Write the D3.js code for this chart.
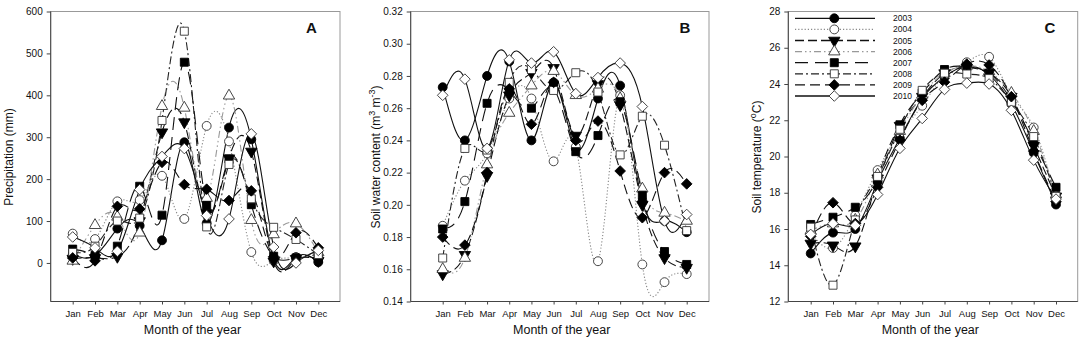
<!DOCTYPE html>
<html>
<head>
<meta charset="utf-8">
<style>
  html, body { margin: 0; padding: 0; background: #fff; }
  svg { display: block; font-family: "Liberation Sans", Arial, sans-serif; }
</style>
</head>
<body>
<svg id="chart" width="1084" height="339"></svg>
<script src="https://cdn.jsdelivr.net/npm/d3@7"></script>
<script>
  // ---- data ----
  const months = ['Jan', 'Feb', 'Mar', 'Apr', 'May', 'Jun', 'Jul', 'Aug', 'Sep', 'Oct', 'Nov', 'Dec']
  const years = ['2003', '2004', '2005', '2006', '2007', '2008', '2009', '2010']

  // precipitation (mm), one row per year
  const precipitation = [
    [20, 18, 82, 89, 54, 288, 95, 323, 295, 10, 14, 2],
    [70, 57, 147, 150, 208, 105, 327, 290, 26, 5, 12, 28],
    [10, 12, 15, 100, 312, 336, 119, 250, 266, 4, 10, 5],
    [5, 90, 110, 72, 374, 370, 155, 399, 102, 68, 94, 25],
    [33, 18, 40, 183, 114, 479, 137, 248, 139, 16, 12, 10],
    [25, 40, 100, 107, 340, 553, 86, 235, 153, 85, 56, 20],
    [12, 5, 135, 129, 240, 187, 176, 149, 172, 15, 72, 36],
    [62, 36, 28, 175, 254, 273, 113, 105, 308, 38, 0, 30]
  ]

  // soil water content (m3 m-3)
  const soilWater = [
    [0.273, 0.240, 0.280, 0.289, 0.240, 0.276, 0.235, 0.266, 0.274, 0.202, 0.190, 0.183],
    [0.187, 0.215, 0.232, 0.266, 0.266, 0.227, 0.236, 0.165, 0.268, 0.163, 0.152, 0.157],
    [0.157, 0.169, 0.218, 0.268, 0.282, 0.285, 0.243, 0.275, 0.262, 0.200, 0.167, 0.161],
    [0.160, 0.167, 0.225, 0.257, 0.274, 0.283, 0.268, 0.272, 0.266, 0.210, 0.195, 0.190],
    [0.185, 0.202, 0.263, 0.271, 0.260, 0.272, 0.233, 0.243, 0.264, 0.206, 0.171, 0.163],
    [0.167, 0.235, 0.234, 0.276, 0.284, 0.271, 0.282, 0.270, 0.231, 0.255, 0.237, 0.184],
    [0.180, 0.175, 0.220, 0.272, 0.250, 0.276, 0.240, 0.252, 0.221, 0.192, 0.220, 0.213],
    [0.268, 0.278, 0.235, 0.290, 0.288, 0.295, 0.269, 0.279, 0.288, 0.261, 0.190, 0.194]
  ]

  // soil temperature (oC)
  const soilTemp = [
    [14.65, 15.8, 16.0, 18.6, 21.0, 23.2, 24.4, 25.0, 24.5, 22.9, 20.2, 17.35],
    [15.8, 14.95, 16.75, 19.25, 21.3, 22.8, 24.5, 25.2, 25.5, 23.4, 21.6, 17.7],
    [15.2, 15.1, 15.05, 18.8, 21.7, 23.3, 24.6, 24.9, 24.6, 23.3, 20.6, 17.8],
    [15.9, 16.3, 16.5, 19.0, 21.4, 23.4, 24.6, 25.0, 24.7, 23.5, 21.4, 17.9],
    [16.25, 16.65, 17.2, 18.75, 21.75, 23.5, 24.8, 24.95, 24.6, 23.1, 20.8, 18.3],
    [16.1, 12.9, 16.5, 18.9, 21.5, 23.65, 24.6, 24.55, 24.3, 23.0, 21.1, 17.8],
    [15.6, 17.45, 16.3, 18.3, 20.9, 23.1, 24.1, 25.1, 25.05, 23.3, 20.3, 17.5],
    [15.7, 16.3, 16.2, 17.9, 20.45, 22.1, 23.7, 24.05, 24.0, 22.55, 19.8, 17.65]
  ]

  // ---- styles per year ----
  const yearStyle = [
    { dash: null, color: '#111', symbol: d3.symbolCircle, size: 62, fill: '#000', rot: 0 },
    { dash: '1.2,2', color: '#888', symbol: d3.symbolCircle, size: 62, fill: '#fff', rot: 0 },
    { dash: '9,4', color: '#111', symbol: d3.symbolTriangle, size: 56, fill: '#000', rot: 180 },
    { dash: '7,3,1.5,3,1.5,3', color: '#999', symbol: d3.symbolTriangle, size: 56, fill: '#fff', rot: 0 },
    { dash: '13,7', color: '#111', symbol: d3.symbolSquare, size: 64, fill: '#000', rot: 0 },
    { dash: '8,3,2,3', color: '#222', symbol: d3.symbolSquare, size: 64, fill: '#fff', rot: 0 },
    { dash: '10,5', color: '#111', symbol: d3.symbolDiamond2, size: 72, fill: '#000', rot: 0 },
    { dash: null, color: '#111', symbol: d3.symbolDiamond2, size: 72, fill: '#fff', rot: 0 }
  ]

  const panels = [
    {
      letter: 'A', data: precipitation,
      frame: [50.7, 340, 11.5, 301.5], monthRange: [72.7, 318.3],
      yDomain: [-92, 600], yTicks: d3.range(0, 601, 100), fmt: d3.format('d'),
      letterX: 311.5, titleX: 8
    },
    {
      letter: 'B', data: soilWater,
      frame: [410.7, 709, 11.5, 301.5], monthRange: [442.7, 686.7],
      yDomain: [0.14, 0.32], yTicks: d3.range(0.14, 0.3201, 0.02), fmt: d3.format('.2f'),
      letterX: 685, titleX: 375
    },
    {
      letter: 'C', data: soilTemp,
      frame: [788.3, 1077.7, 11.5, 301.5], monthRange: [810.7, 1056],
      yDomain: [12, 28], yTicks: d3.range(12, 29, 2), fmt: d3.format('d'),
      letterX: 1050, titleX: 756
    }
  ]

  const svg = d3.select('#chart')

  panels.forEach((p, pi) => {
    const [x0, x1, y0, y1] = p.frame
    const x = d3.scalePoint().domain(months).range(p.monthRange)
    const y = d3.scaleLinear().domain(p.yDomain).range([y1, y0])
    const g = svg.append('g')

    const clipId = 'clip' + pi
    g.append('clipPath').attr('id', clipId)
      .append('rect').attr('x', x0).attr('y', y0).attr('width', x1 - x0).attr('height', y1 - y0)

    // frame
    g.append('rect')
      .attr('x', x0).attr('y', y0).attr('width', x1 - x0).attr('height', y1 - y0)
      .attr('fill', 'none').attr('stroke', '#999').attr('stroke-width', 1)
    g.append('line').attr('x1', x0).attr('x2', x0).attr('y1', y0).attr('y2', y1)
      .attr('stroke', '#444')
    g.append('line').attr('x1', x0).attr('x2', x1).attr('y1', y1).attr('y2', y1)
      .attr('stroke', '#444')

    // axes
    const yAxis = g.append('g').attr('transform', `translate(${x0},0)`)
      .call(d3.axisLeft(y).tickValues(p.yTicks).tickFormat(p.fmt).tickSize(4).tickPadding(4))
    yAxis.select('.domain').remove()
    yAxis.selectAll('text').attr('font-size', 10).attr('fill', '#111')
      .attr('font-family', '"Liberation Sans", Arial, sans-serif')
    yAxis.selectAll('line').attr('stroke', '#444')

    const xAxis = g.append('g').attr('transform', `translate(0,${y1})`)
      .call(d3.axisBottom(x).tickSize(3).tickPadding(6))
    xAxis.select('.domain').remove()
    xAxis.selectAll('text').attr('font-size', 9.5).attr('fill', '#111')
      .attr('font-family', '"Liberation Sans", Arial, sans-serif')
    xAxis.selectAll('line').attr('stroke', '#444')

    // x title
    g.append('text')
      .attr('x', (p.monthRange[0] + p.monthRange[1]) / 2 - 3).attr('y', 334)
      .attr('text-anchor', 'middle').attr('font-size', 12.5).attr('fill', '#111')
      .text('Month of the year')

    // y title
    const yt = g.append('text')
      .attr('transform', `translate(${p.titleX + 4.5},157) rotate(-90)`)
      .attr('text-anchor', 'middle').attr('font-size', 12).attr('fill', '#111')
    if (p.letter === 'A') {
      yt.text('Precipitation (mm)')
    } else if (p.letter === 'B') {
      yt.append('tspan').text('Soil water content (m')
      yt.append('tspan').attr('dy', -5).attr('font-size', 9).text('3')
      yt.append('tspan').attr('dy', 5).text(' m')
      yt.append('tspan').attr('dy', -5).attr('font-size', 9).text('-3')
      yt.append('tspan').attr('dy', 5).text(')')
    } else {
      yt.append('tspan').text('Soil temperature (')
      yt.append('tspan').attr('dy', -5).attr('font-size', 9).text('o')
      yt.append('tspan').attr('dy', 5).text('C)')
    }

    // panel letter
    g.append('text').attr('x', p.letterX).attr('y', 33)
      .attr('text-anchor', 'middle').attr('font-size', 15).attr('font-weight', 'bold')
      .attr('fill', '#111').text(p.letter)

    // series lines
    const line = d3.line()
      .x((d, i) => x(months[i]))
      .y(d => y(d))
      .curve(d3.curveNatural)

    const plot = g.append('g').attr('clip-path', `url(#${clipId})`)
    p.data.forEach((row, k) => {
      const s = yearStyle[k]
      plot.append('path')
        .attr('d', line(row))
        .attr('fill', 'none')
        .attr('stroke', s.color)
        .attr('stroke-width', 1.1)
        .attr('stroke-dasharray', s.dash)
    })

    // markers
    p.data.forEach((row, k) => {
      const s = yearStyle[k]
      plot.selectAll(null).data(row).enter()
        .append('path')
        .attr('d', d3.symbol().type(s.symbol).size(s.size))
        .attr('transform', (d, i) => `translate(${x(months[i])},${y(d)}) rotate(${s.rot})`)
        .attr('fill', s.fill)
        .attr('stroke', s.fill === '#000' ? '#000' : '#333')
        .attr('stroke-width', 0.9)
    })

    // legend (panel C only)
    if (p.letter === 'C') {
      const lg = g.append('g')
      years.forEach((yr, k) => {
        const s = yearStyle[k]
        const ly = 18.3 + k * 11.1
        lg.append('line')
          .attr('x1', 795).attr('x2', 875).attr('y1', ly).attr('y2', ly)
          .attr('stroke', s.color).attr('stroke-width', 1.3)
          .attr('stroke-dasharray', s.dash)
        lg.append('path')
          .attr('d', d3.symbol().type(s.symbol).size(s.size))
          .attr('transform', `translate(834.3,${ly}) rotate(${s.rot})`)
          .attr('fill', s.fill)
          .attr('stroke', s.fill === '#000' ? '#000' : '#333')
          .attr('stroke-width', 0.9)
        lg.append('text')
          .attr('x', 893).attr('y', ly + 3)
          .attr('font-size', 8.5).attr('fill', '#111')
          .text(yr)
      })
    }
  })
</script>
</body>
</html>
